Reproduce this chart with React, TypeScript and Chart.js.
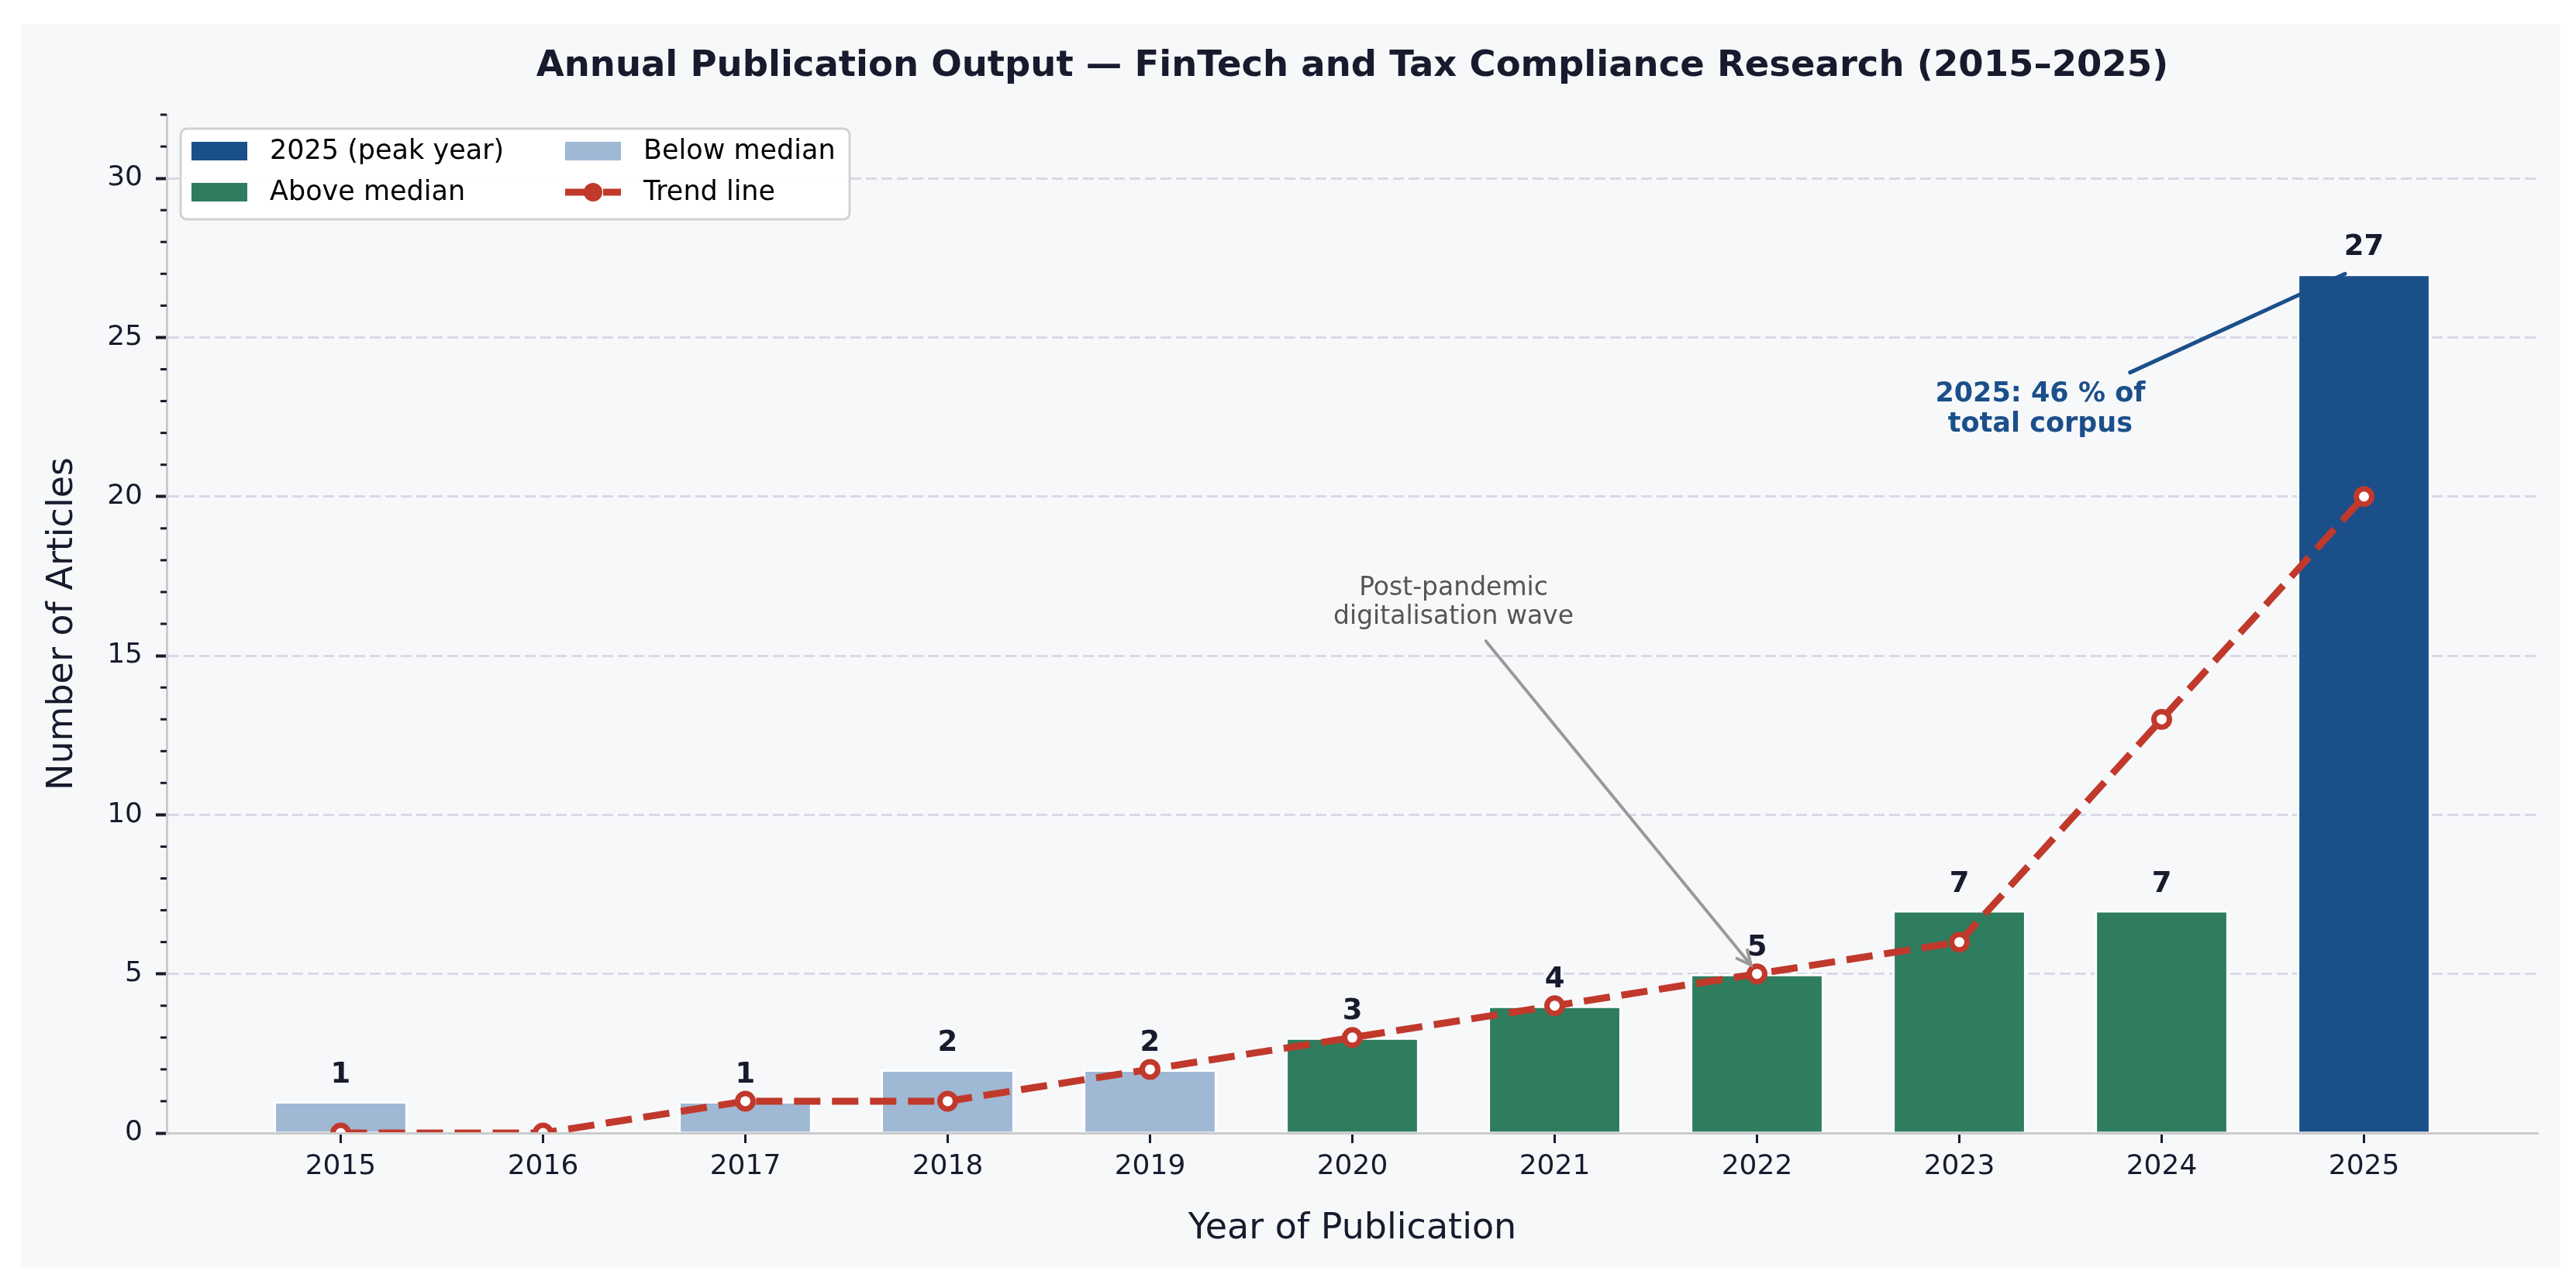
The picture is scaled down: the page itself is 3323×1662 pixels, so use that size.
import React, { useEffect, useRef } from 'react';
import { Chart, registerables } from 'chart.js';

Chart.register(...registerables);

// ---- data ----
const years = ['2015', '2016', '2017', '2018', '2019', '2020', '2021', '2022', '2023', '2024', '2025'];
const articleCounts = [1, 0, 1, 2, 2, 3, 4, 5, 7, 7, 27];
const trendValues = [0, 0, 1, 1, 2, 3, 4, 5, 6, 13, 20];
const yTickValues = [0, 5, 10, 15, 20, 25, 30];
const legendLabels = ['2025 (peak year)', 'Above median', 'Below median', 'Trend line'];
const pandemicNote = ['Post-pandemic', 'digitalisation wave'];
const peakNote = ['2025: 46 % of', 'total corpus'];

// annotation anchors, in data units (like matplotlib's xy / xytext)
const pandemicText = { x: 5.5, y: 16.0 };
const pandemicArrow = { from: { x: 5.66, y: 15.46 }, to: { x: 6.97, y: 5.28 } };
const peakText = { x: 8.4, y: 22.04 };
const peakArrow = { from: { x: 8.844, y: 23.9 }, to: { x: 9.906, y: 27 } };

const FONT = '"DejaVu Sans", Verdana, sans-serif';
const INK = '#1a1a2e';
const RED = '#c0392b';
const PEAK = '#1b4f8a';
const ABOVE = '#2e7d5e';
const BELOW = '#9fb8d4';
const GRID = '#d9d9e9';
const SPINE = '#cccccc';

const sorted = [...articleCounts].sort((a, b) => a - b);
const median = sorted[Math.floor(sorted.length / 2)];
const barColors = articleCounts.map((v, i) =>
  i === articleCounts.length - 1 ? PEAK : v >= median ? ABOVE : BELOW
);

const decorations = {
  id: 'decorations',
  afterDatasetsDraw(chart: any) {
    const { ctx, scales: { x, y } } = chart;
    ctx.save();

    // value labels on bars
    ctx.fillStyle = INK;
    ctx.font = `bold 37px ${FONT}`;
    ctx.textAlign = 'center';
    ctx.textBaseline = 'alphabetic';
    articleCounts.forEach((v, i) => {
      if (v <= 0) return;
      ctx.fillText(String(v), x.getPixelForValue(i), y.getPixelForValue(v) - 24);
    });

    // post-pandemic annotation
    const tx = x.getPixelForValue(pandemicText.x);
    const ty = y.getPixelForValue(pandemicText.y);
    ctx.fillStyle = '#555555';
    ctx.font = `33px ${FONT}`;
    ctx.fillText(pandemicNote[0], tx, ty - 37);
    ctx.fillText(pandemicNote[1], tx, ty);

    const ax0 = x.getPixelForValue(pandemicArrow.from.x);
    const ay0 = y.getPixelForValue(pandemicArrow.from.y);
    const ax1 = x.getPixelForValue(pandemicArrow.to.x);
    const ay1 = y.getPixelForValue(pandemicArrow.to.y);
    ctx.strokeStyle = '#999999';
    ctx.lineWidth = 4;
    ctx.lineCap = 'round';
    ctx.beginPath();
    ctx.moveTo(ax0, ay0);
    ctx.lineTo(ax1, ay1);
    ctx.stroke();
    const ang = Math.atan2(ay1 - ay0, ax1 - ax0);
    const head = 20;
    ctx.beginPath();
    ctx.moveTo(ax1 - head * Math.cos(ang - 0.45), ay1 - head * Math.sin(ang - 0.45));
    ctx.lineTo(ax1, ay1);
    ctx.lineTo(ax1 - head * Math.cos(ang + 0.45), ay1 - head * Math.sin(ang + 0.45));
    ctx.stroke();

    // peak-year annotation
    ctx.strokeStyle = PEAK;
    ctx.lineWidth = 5;
    ctx.beginPath();
    ctx.moveTo(x.getPixelForValue(peakArrow.from.x), y.getPixelForValue(peakArrow.from.y));
    ctx.lineTo(x.getPixelForValue(peakArrow.to.x), y.getPixelForValue(peakArrow.to.y));
    ctx.stroke();
    const px = x.getPixelForValue(peakText.x);
    const py = y.getPixelForValue(peakText.y);
    ctx.fillStyle = PEAK;
    ctx.font = `bold 35px ${FONT}`;
    ctx.fillText(peakNote[0], px, py - 39);
    ctx.fillText(peakNote[1], px, py);

    ctx.restore();
  },
  afterDraw(chart: any) {
    const { ctx, chartArea, scales: { y } } = chart;
    const cx = (chartArea.left + chartArea.right) / 2;
    ctx.save();

    // minor ticks on the y axis
    ctx.strokeStyle = INK;
    ctx.lineWidth = 3;
    for (let v = 1; v <= 32; v++) {
      if (v % 5 === 0) continue;
      const yy = y.getPixelForValue(v);
      ctx.beginPath();
      ctx.moveTo(chartArea.left - 8, yy);
      ctx.lineTo(chartArea.left, yy);
      ctx.stroke();
    }

    // title and axis titles
    ctx.fillStyle = INK;
    ctx.textAlign = 'center';
    ctx.textBaseline = 'alphabetic';
    ctx.font = `bold 46.5px ${FONT}`;
    ctx.fillText('Annual Publication Output \u2014 FinTech and Tax Compliance Research (2015\u20132025)', cx, 67);
    ctx.font = `46px ${FONT}`;
    ctx.fillText('Year of Publication', cx, 1567);
    ctx.save();
    ctx.translate(66, (chartArea.top + chartArea.bottom) / 2);
    ctx.rotate(-Math.PI / 2);
    ctx.fillText('Number of Articles', 0, 0);
    ctx.restore();

    // legend
    const bx = 206, by = 135, bw = 863, bh = 117;
    ctx.beginPath();
    ctx.roundRect(bx, by, bw, bh, 8);
    ctx.fillStyle = 'rgba(255,255,255,0.9)';
    ctx.fill();
    ctx.strokeStyle = '#d2d2d2';
    ctx.lineWidth = 3;
    ctx.stroke();

    const cols = [220, 702];
    const rows = [164, 217];
    const textOff = 101;
    const swatch = [PEAK, ABOVE, BELOW];
    ctx.font = `35px ${FONT}`;
    ctx.textAlign = 'left';
    ctx.textBaseline = 'middle';
    legendLabels.forEach((label, i) => {
      const c = cols[Math.floor(i / 2)];
      const r = rows[i % 2];
      if (i < 3) {
        ctx.fillStyle = swatch[i];
        ctx.fillRect(c, r - 12, 72, 24);
      } else {
        ctx.strokeStyle = RED;
        ctx.lineWidth = 9;
        ctx.setLineDash([34, 15]);
        ctx.beginPath();
        ctx.moveTo(c, r);
        ctx.lineTo(c + 72, r);
        ctx.stroke();
        ctx.setLineDash([]);
        ctx.fillStyle = RED;
        ctx.beginPath();
        ctx.arc(c + 36, r, 12, 0, Math.PI * 2);
        ctx.fill();
      }
      ctx.fillStyle = '#000000';
      ctx.fillText(label, c + textOff, r + 1);
    });

    ctx.restore();
  },
};

export default function App() {
  const canvasRef = useRef<HTMLCanvasElement>(null);

  useEffect(() => {
    if (!canvasRef.current) return;
    Chart.defaults.font.family = FONT;

    const chart = new Chart(canvasRef.current, {
      type: 'bar',
      data: {
        datasets: [
          {
            type: 'line',
            label: 'Trend line',
            data: years.map((_, i) => ({ x: i, y: trendValues[i] })),
            borderColor: RED,
            borderWidth: 9,
            borderDash: [34, 15],
            tension: 0,
            fill: false,
            pointRadius: 10,
            pointBorderWidth: 7,
            pointBackgroundColor: '#ffffff',
            pointBorderColor: RED,
            clip: 0,
            order: 1,
          } as any,
          {
            type: 'bar',
            label: 'Articles',
            data: years.map((_, i) => ({ x: i, y: articleCounts[i] })),
            backgroundColor: barColors,
            borderColor: '#ffffff',
            borderWidth: 3,
            borderSkipped: 'start',
            barPercentage: 0.662,
            categoryPercentage: 1,
            order: 2,
          } as any,
        ],
      },
      options: {
        animation: false,
        responsive: false,
        devicePixelRatio: 1,
        events: [],
        layout: { padding: { top: 117, right: 29, left: 0, bottom: 0 } },
        plugins: {
          legend: { display: false },
          tooltip: { enabled: false },
          title: { display: false },
        },
        scales: {
          x: {
            type: 'linear',
            offset: false,
            min: -0.86,
            max: 10.86,
            afterBuildTicks: (s: any) => {
              s.ticks = years.map((_, i) => ({ value: i }));
            },
            afterFit: (s: any) => {
              s.height = 175;
            },
            ticks: {
              callback: (v: any) => years[v] ?? '',
              color: INK,
              font: { size: 36 },
              padding: 9,
              autoSkip: false,
              maxRotation: 0,
            },
            grid: {
              offset: false,
              drawOnChartArea: false,
              drawTicks: true,
              tickLength: 13,
              tickWidth: 3,
              tickColor: INK,
            },
            border: { color: SPINE, width: 3, z: 1 },
          },
          y: {
            type: 'linear',
            min: 0,
            max: 32,
            afterBuildTicks: (s: any) => {
              s.ticks = yTickValues.map((v) => ({ value: v }));
            },
            afterFit: (s: any) => {
              s.width = 188;
            },
            ticks: { color: INK, font: { size: 36 }, padding: 17 },
            grid: {
              color: (c: any) => (c.tick && c.tick.value === 0 ? 'rgba(0,0,0,0)' : GRID),
              lineWidth: 3,
              tickLength: 14,
              tickWidth: 4,
              tickColor: INK,
              tickBorderDash: [],
            },
            border: { color: SPINE, width: 3, dash: [14, 6] },
          },
        },
      } as any,
      plugins: [decorations],
    });

    return () => chart.destroy();
  }, []);

  return (
    <div style={{ position: 'fixed', left: 0, top: 0, width: 3323, height: 1662, background: '#ffffff' }}>
      <div style={{ position: 'absolute', left: 27, top: 31, width: 3276, height: 1606, background: '#f7f8fa' }}>
        <canvas ref={canvasRef} width={3276} height={1606} style={{ display: 'block', width: 3276, height: 1606 }} />
      </div>
    </div>
  );
}
